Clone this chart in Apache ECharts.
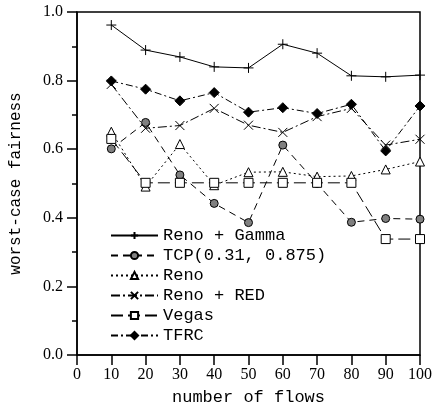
<!DOCTYPE html>
<html><head><meta charset="utf-8">
<script src="https://cdn.jsdelivr.net/npm/echarts@6/dist/echarts.min.js"></script>
<style>html,body{margin:0;padding:0;background:#fff}#c{width:439px;height:411px}</style>
</head><body><div id="c"></div>
<script>
const flows = [10,20,30,40,50,60,70,80,90,100];
const renoGamma = [0.962,0.889,0.869,0.840,0.837,0.906,0.880,0.814,0.811,0.816];
const tcp = [0.601,0.678,0.525,0.442,0.386,0.612,0.50,0.387,0.398,0.396];
const reno = [0.651,0.491,0.615,0.495,0.533,0.534,0.520,0.522,0.541,0.564];
const renoRed = [0.789,0.661,0.669,0.719,0.670,0.649,0.695,0.719,0.612,0.629];
const vegas = [0.630,0.502,0.502,0.502,0.502,0.502,0.502,0.502,0.338,0.338];
const tfrc = [0.799,0.775,0.741,0.765,0.708,0.721,0.704,0.731,0.595,0.726];
const xTicks = [0,10,20,30,40,50,60,70,80,90,100];
const yTicks = [0,0.2,0.4,0.6,0.8,1.0];

const pair = arr => flows.map((x,i)=>[x,arr[i]]);
const mono = 'Liberation Mono';
function mk(name, data, symbol, size, fill, dash){
  return {
    name, type:'line', data: pair(data), symbol, symbolSize:size,
    showSymbol:true,
    lineStyle:{color:'#000', width:1, type: dash},
    itemStyle:{color: fill, borderColor:'#000', borderWidth:1},
    emphasis:{disabled:true}, animation:false
  };
}
const plus = 'path://M0,5L10,5M5,0L5,10';
const cross = 'path://M0,0L10,10M10,0L0,10';
const chart = echarts.init(document.getElementById('c'), null, {renderer:'canvas'});
chart.setOption({
  animation:false,
  grid:{left:77, right:19, top:12, bottom:56, outerBoundsMode:'none', containLabel:false,
    show:true, borderColor:'#000', borderWidth:1.5, backgroundColor:'transparent'},
  xAxis:{type:'value', min:0, max:100, interval:10,
    name:'number of flows', nameLocation:'middle', nameGap:34,
    nameTextStyle:{fontFamily:mono, fontSize:17, color:'#000'},
    axisLine:{lineStyle:{color:'#000', width:1.5}},
    axisTick:{inside:false, length:10, lineStyle:{color:'#000', width:1.5}},
    axisLabel:{fontFamily:'Liberation Serif', fontSize:16, color:'#000', margin:12,
      customValues: xTicks},
    splitLine:{show:false}},
  yAxis:{type:'value', min:0, max:1, interval:0.2,
    name:'worst-case fairness', nameLocation:'middle', nameGap:53,
    nameTextStyle:{fontFamily:mono, fontSize:16, color:'#000'},
    axisLine:{lineStyle:{color:'#000', width:1.5}},
    axisTick:{inside:false, length:10, lineStyle:{color:'#000', width:1.5}},
    minorTick:{show:true, splitNumber:2, length:5, lineStyle:{color:'#000', width:1.5}},
    axisLabel:{fontFamily:'Liberation Serif', fontSize:16, color:'#000', margin:14,
      formatter: v => v.toFixed(1)},
    splitLine:{show:false}},
  legend:{
    orient:'vertical', left:110, top:227, padding:0, itemWidth:47, itemHeight:9, itemGap:3,
    textStyle:{fontFamily:mono, fontSize:17, color:'#000'},
    backgroundColor:'transparent'
  },
  series:[
    mk('Reno + Gamma', renoGamma, plus, 10, '#000', 'solid'),
    mk('TCP(0.31, 0.875)', tcp, 'circle', 8, '#808080', [7,5]),
    mk('Reno', reno, 'triangle', 9, '#fff', [2,3]),
    mk('Reno + RED', renoRed, cross, 9, '#000', [9,3,2,3]),
    mk('Vegas', vegas, 'rect', 9, '#fff', [12,5]),
    mk('TFRC', tfrc, 'diamond', 10, '#000', [7,3,2,3])
  ]
});
</script></body></html>
